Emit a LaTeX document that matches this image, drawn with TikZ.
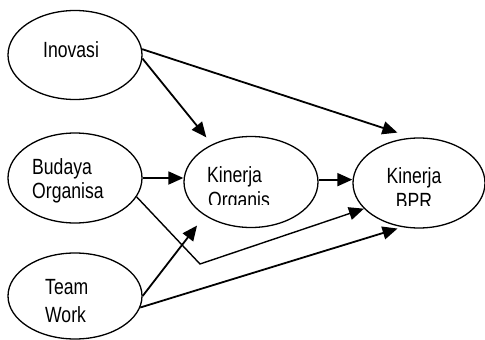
\documentclass[tikz,border=0pt]{standalone}
\usepackage{fontspec}
\setmainfont{Liberation Sans}[FakeStretch=0.8]
\usetikzlibrary{arrows.meta,shapes.geometric}

\begin{document}
\begin{tikzpicture}[x=1pt,y=-1pt,
  oval/.style={ellipse, draw, line width=1.3pt, minimum width=134pt, minimum height=90pt, inner sep=0pt},
  lbl/.style={anchor=base west, inner sep=0pt, font=\fontsize{22}{25}\selectfont},
  lblc/.style={anchor=base, inner sep=0pt, font=\fontsize{22}{25}\selectfont},
  arr/.style={line width=1.8pt, -{Triangle[length=15pt,width=13pt]}},
  thinarr/.style={line width=1.4pt, -{Triangle[length=15pt,width=13pt]}}]
\useasboundingbox (0,0) rectangle (485,340);

% ellipses
\node[oval, minimum height=89pt] (inov) at (75,55) {};
\node[oval] (bud) at (75,178) {};
\node[oval, minimum height=86pt] (team) at (75,296) {};
\node[oval, minimum height=91pt] (ko) at (251,182) {};
\node[oval, minimum width=132pt] (kb) at (419,183) {};

% labels
\node[lbl] (tinov) at (43,57) {Inovasi};
\node[lbl] (tbud1) at (32,174) {Budaya};
\node[lbl] (tbud2) at (32,198) {Organisa};
\node[lbl] (tteam1) at (45,294) {Team};
\node[lbl] (tteam2) at (45,322) {Work};
\node[lbl] (tko1) at (207,182) {Kinerja};
\node[lblc] (tkb1) at (414,183) {Kinerja};
\begin{scope}
  \clip (150,130) rectangle (330,204);
  \node[lbl] (tko2) at (208,207) {Organis};
\end{scope}
\begin{scope}
  \clip (360,130) rectangle (470,205);
  \node[lblc] (tkb2) at (414,208) {BPR};
\end{scope}

% connectors
\coordinate (bend) at (200,264);
\draw[arr, shorten >=9pt] (inov.-3) -- (ko.136);
\draw[arr, shorten >=16pt] (inov.5) -- (kb.98);
\draw[arr] (bud.east) -- (bud.east -| ko.west);
\draw[thinarr] (bud.-17) -- (bend) -- (kb.205);
\draw[arr, shorten >=12.5pt] (team.east) -- (ko.216);
\draw[arr, shorten >=4.7pt] (team.-10) -- (kb.249);
\draw[arr] (ko.2) -- (kb.west |- ko.2);
\end{tikzpicture}
\end{document}
